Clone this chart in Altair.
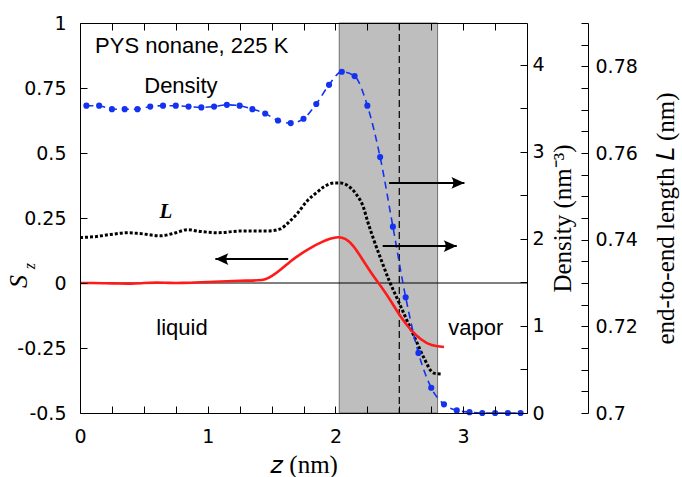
import altair as alt
import pandas as pd

# ---------------- data ----------------
# orientational order parameter S_z (red line)
z_order = [0.0, 0.1, 0.2, 0.3, 0.4, 0.5, 0.6, 0.7, 0.8, 0.9, 1.0, 1.1, 1.2, 1.3, 1.4,
           1.45, 1.5, 1.57, 1.65, 1.73, 1.81, 1.89, 1.96, 2.02, 2.08, 2.14, 2.2, 2.28,
           2.36, 2.44, 2.51, 2.59, 2.67, 2.75, 2.85]
s_order = [0.0, 0.0, -0.001, -0.002, -0.003, 0.0, 0.002, 0.0, 0.0, 0.002, 0.004, 0.006,
           0.008, 0.009, 0.01, 0.013, 0.025, 0.05, 0.085, 0.113, 0.137, 0.157, 0.171, 0.178,
           0.172, 0.145, 0.1, 0.038, -0.015, -0.073, -0.131, -0.181, -0.219, -0.242, -0.246]

# end-to-end length L (black dotted line)
z_len = [0.0, 0.12, 0.24, 0.37, 0.47, 0.63, 0.75, 0.84, 0.94, 1.08, 1.26, 1.47, 1.57, 1.63,
         1.70, 1.78, 1.85, 1.91, 1.99, 2.04, 2.10, 2.16, 2.22, 2.25, 2.30, 2.36, 2.42, 2.49,
         2.57, 2.63, 2.69, 2.77, 2.83]
len_vals = [0.7405, 0.7407, 0.7412, 0.7416, 0.7414, 0.7409, 0.7416, 0.7423, 0.7419, 0.7416,
            0.742, 0.742, 0.7425, 0.7439, 0.746, 0.749, 0.7508, 0.7522, 0.7531, 0.7531,
            0.7524, 0.7506, 0.7474, 0.7444, 0.740, 0.7352, 0.7306, 0.726, 0.7207, 0.7168,
            0.7129, 0.7092, 0.709]

# density (blue dashed line with dots)
z_dens = [0.05, 0.15, 0.25, 0.35, 0.45, 0.55, 0.65, 0.75, 0.85, 0.95, 1.05, 1.15, 1.25,
          1.35, 1.45, 1.55, 1.65, 1.75, 1.85, 1.95, 2.05, 2.15, 2.25, 2.35, 2.45, 2.55,
          2.65, 2.75, 2.85, 2.95, 3.05, 3.15, 3.25, 3.35, 3.45]
dens_vals = [3.53, 3.53, 3.49, 3.49, 3.49, 3.52, 3.53, 3.53, 3.52, 3.51, 3.52, 3.54, 3.53,
             3.49, 3.44, 3.36, 3.33, 3.38, 3.55, 3.77, 3.92, 3.87, 3.53, 2.94, 2.14, 1.33,
             0.69, 0.29, 0.10, 0.03, 0.01, 0.0, 0.0, 0.0, 0.0]

# interfacial region and Gibbs dividing surface
band_start = [2.03]
band_end = [2.80]
interface_z = [2.5]

# arrows (in z / S_z coordinates)
arrow_from = [1.63, 2.42, 2.37]
arrow_to = [1.06, 3.01, 2.95]
arrow_s = [0.092, 0.385, 0.142]
arrow_angle = [180, 0, 0]

# annotations
note_text = ["PYS nonane, 225 K", "Density", "liquid", "vapor"]
note_z = [0.118, 0.503, 0.597, 2.883]
note_s = [0.8835, 0.731, -0.2, -0.2]

# tick values / labels
x_minor = [round(0.25 * i, 2) for i in range(1, 14)]
x_major = [0, 1, 2, 3]
s_ticks = [-0.5, -0.25, 0, 0.25, 0.5, 0.75, 1]
d_minor = [0.5 * i for i in range(0, 9)]
d_major = [0, 1, 2, 3, 4]
l_minor = [round(0.7 + 0.005 * i, 3) for i in range(0, 19)]
l_major = [0.7, 0.72, 0.74, 0.76, 0.78]

# ---------------- styling ----------------
W, H = 447, 390
L_OFF = 61
TICK_FONT = "DejaVu Sans"
SERIF = "Liberation Serif"
SANS = "Liberation Sans"

xs = alt.Scale(domain=[0, 3.5], nice=False, zero=False)
ss = alt.Scale(domain=[-0.5, 1.0], nice=False, zero=False)
ds = alt.Scale(domain=[0, 4.48], nice=False, zero=False)
ls = alt.Scale(domain=[0.7, 0.79], nice=False, zero=False)


def tick_axis(orient, offset, values):
    return alt.Axis(orient=orient, offset=offset, values=values, ticks=True, tickSize=7,
                    tickWidth=1, tickColor="black", domain=True, domainColor="black",
                    domainWidth=1, labels=False, title=None, grid=False, zindex=2)


def label_axis(orient, offset, values, pad, **kw):
    return alt.Axis(orient=orient, offset=offset, values=values, ticks=False, tickSize=0,
                    domain=False, labels=True, labelPadding=pad, labelFont=TICK_FONT,
                    labelFontSize=19, labelColor="black", labelFlush=False,
                    labelOverlap=False, labelExpr="'' + datum.value", grid=False,
                    zindex=2, **kw)


X_top = tick_axis("bottom", -H, x_minor)
X_bot = tick_axis("top", -H, x_minor)
X_lab = label_axis("bottom", 0, x_major, 14, title="𝑧 (nm)", titleFont=SERIF,
                   titleFontSize=25, titleFontWeight="normal", titleColor="black",
                   titleBaseline="alphabetic", titleY=59)
S_tick = tick_axis("right", -W, s_ticks)
S_lab = label_axis("left", 0, s_ticks, 14, title=None)
D_tick = tick_axis("left", -W, d_minor)
D_lab = label_axis("right", 0, d_major, 5, title="Density (nm⁻³)", titleFont=SERIF,
                   titleFontSize=25, titleFontWeight="normal", titleColor="black",
                   titleAngle=270, titleBaseline="alphabetic", titleX=43)
L_tick = tick_axis("left", -(W + L_OFF), l_minor)
L_lab = label_axis("right", L_OFF, l_major, 7, title="end-to-end length 𝐿 (nm)",
                   titleFont=SERIF, titleFontSize=25, titleFontWeight="normal",
                   titleColor="black", titleAngle=270, titleBaseline="alphabetic",
                   titleX=85)

# ---------------- layers ----------------
band = alt.Chart(pd.DataFrame({"z0": band_start, "z1": band_end})).mark_rect(
    color="#bebebe", stroke="#707070", strokeWidth=1
).encode(x=alt.X("z0:Q", scale=xs, axis=X_lab), x2="z1:Q")

vline = alt.Chart(pd.DataFrame({"zi": interface_z})).mark_rule(
    color="black", strokeWidth=1.2, strokeDash=[7, 4]
).encode(x=alt.X("zi:Q", scale=xs, axis=X_top))

zero = alt.Chart(pd.DataFrame({"s0": [0]})).mark_rule(color="black", strokeWidth=1).encode(
    y=alt.Y("s0:Q", scale=ss, axis=S_tick)
)

df_len = pd.DataFrame({"z": z_len, "L": len_vals})
lline = alt.Chart(df_len).mark_line(
    color="black", strokeWidth=3, strokeDash=[3, 2], interpolate="monotone"
).encode(x=alt.X("z:Q", scale=xs, axis=None), y=alt.Y("L:Q", scale=ls, axis=L_tick))

df_s = pd.DataFrame({"z": z_order, "S": s_order})
red = alt.Chart(df_s).mark_line(color="#ff1a1a", strokeWidth=2.6, interpolate="basis").encode(
    x=alt.X("z:Q", scale=xs, axis=X_bot), y=alt.Y("S:Q", scale=ss, axis=S_lab)
)

df_d = pd.DataFrame({"z": z_dens, "D": dens_vals})
dline = alt.Chart(df_d).mark_line(
    color="#1433f0", strokeWidth=1.6, strokeDash=[7, 5], interpolate="monotone"
).encode(x=alt.X("z:Q", scale=xs, axis=None), y=alt.Y("D:Q", scale=ds, axis=D_tick))
dpts = alt.Chart(df_d).mark_circle(color="#1433f0", size=38, opacity=1).encode(
    x=alt.X("z:Q", scale=xs, axis=None), y=alt.Y("D:Q", scale=ds, axis=D_lab)
)

df_arr = pd.DataFrame({"a": arrow_from, "b": arrow_to, "s": arrow_s, "ang": arrow_angle})
arr_line = alt.Chart(df_arr).mark_rule(color="black", strokeWidth=2).encode(
    x=alt.X("a:Q", scale=xs, axis=None), x2="b:Q", y=alt.Y("s:Q", scale=ss, axis=None)
)
arr_head = alt.Chart(df_arr).mark_point(
    shape="M 0 0 L -2 -0.9 Q -1.4 0 -2 0.9 Z", size=169, filled=True, color="black",
    opacity=1, strokeWidth=0.5
).encode(
    x=alt.X("b:Q", scale=xs, axis=None), y=alt.Y("s:Q", scale=ss, axis=None),
    angle=alt.Angle("ang:Q", scale=None)
)

df_note = pd.DataFrame({"t": note_text, "z": note_z, "s": note_s})
notes = alt.Chart(df_note).mark_text(
    font=SANS, fontSize=22, align="left", baseline="alphabetic", color="black"
).encode(x=alt.X("z:Q", scale=xs, axis=None), y=alt.Y("s:Q", scale=ss, axis=None), text="t:N")

ltext = alt.Chart(pd.DataFrame({"t": ["L"], "z": [0.672], "L": [0.745]})).mark_text(
    font=SERIF, fontSize=21, fontStyle="italic", fontWeight="bold", align="center",
    baseline="alphabetic", color="black"
).encode(x=alt.X("z:Q", scale=xs, axis=None), y=alt.Y("L:Q", scale=ls, axis=L_lab), text="t:N")

stext = alt.Chart(pd.DataFrame({"t": ["S"], "z": [-0.415], "s": [0.006]})).mark_text(
    font=SERIF, fontSize=26, fontStyle="italic", align="center", baseline="alphabetic",
    angle=270, color="black"
).encode(x=alt.X("z:Q", scale=xs, axis=None), y=alt.Y("s:Q", scale=ss, axis=None), text="t:N")

sub = alt.Chart(pd.DataFrame({"t": ["z"], "z": [-0.352], "s": [0.065]})).mark_text(
    font=SERIF, fontSize=16, fontStyle="italic", align="center", baseline="alphabetic",
    angle=270, color="black"
).encode(x=alt.X("z:Q", scale=xs, axis=None), y=alt.Y("s:Q", scale=ss, axis=None), text="t:N")

chart = alt.layer(
    band, vline, zero, lline, red, dline, dpts, arr_line, arr_head, notes, ltext, stext, sub
).resolve_scale(y="independent").resolve_axis(x="independent", y="independent").properties(
    width=W, height=H,
    autosize=alt.AutoSizeParams(type="none"),
    padding={"left": 80, "top": 23, "right": 155, "bottom": 64},
).configure_view(stroke=None).configure(background="white")

chart.save("out.html", embed_options={"renderer": "svg", "actions": False})
